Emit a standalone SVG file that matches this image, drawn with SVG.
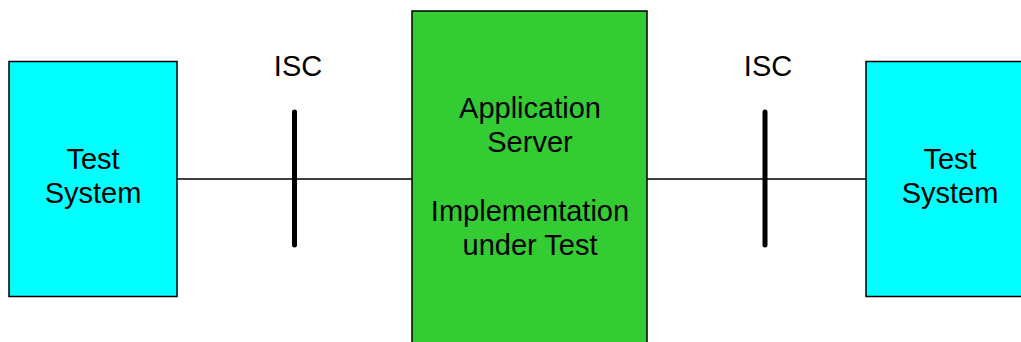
<svg xmlns="http://www.w3.org/2000/svg" width="1021" height="342" viewBox="0 0 1021 342">
  <style>
    .box { stroke: #000; stroke-width: 1.5; }
    .tester { fill: #00FFFF; }
    .sut { fill: #33CC33; }
    .lbl { font-family: "Liberation Sans", Arial, sans-serif; font-size: 29px; fill: #000; text-anchor: middle; }
    .link { stroke: #000; stroke-width: 1.5; fill: none; }
    .isc { stroke: #000; stroke-width: 5; stroke-linecap: round; fill: none; }
  </style>
  <rect width="1021" height="342" fill="#fff"/>

  <!-- links between the test systems and the server, with ISC reference points -->
  <g id="connectors">
    <line class="link" x1="177" y1="179" x2="412" y2="179"/>
    <line class="link" x1="647" y1="179" x2="866" y2="179"/>
    <line class="isc" x1="294.5" y1="112" x2="294.5" y2="245"/>
    <line class="isc" x1="765" y1="112" x2="765" y2="245"/>
    <text class="lbl" x="298" y="76">ISC</text>
    <text class="lbl" x="768" y="76">ISC</text>
  </g>

  <g id="test-system-left">
    <rect class="box tester" x="9" y="61.5" width="168" height="235"/>
    <text class="lbl" x="93" y="169">Test</text>
    <text class="lbl" x="93" y="203">System</text>
  </g>

  <g id="application-server">
    <rect class="box sut" x="412" y="11" width="235" height="340"/>
    <text class="lbl" x="530" y="118">Application</text>
    <text class="lbl" x="530" y="152">Server</text>
    <text class="lbl" x="530" y="221">Implementation</text>
    <text class="lbl" x="530" y="255">under Test</text>
  </g>

  <g id="test-system-right">
    <rect class="box tester" x="866" y="61.5" width="168" height="235"/>
    <text class="lbl" x="950" y="169">Test</text>
    <text class="lbl" x="950" y="203">System</text>
  </g>
</svg>
